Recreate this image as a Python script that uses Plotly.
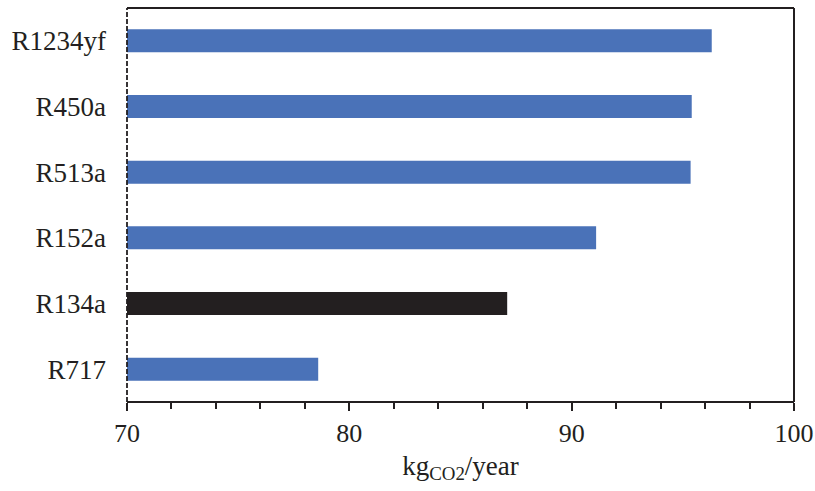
import plotly.graph_objects as go

categories = ["R717", "R134a", "R152a", "R513a", "R450a", "R1234yf"]
values = [78.6, 87.1, 91.1, 95.35, 95.4, 96.3]
colors = ["#4a72b8", "#231f20", "#4a72b8", "#4a72b8", "#4a72b8", "#4a72b8"]
x_ticks = [70, 80, 90, 100]

FONT = "Liberation Serif"
FS = 27

fig = go.Figure(go.Bar(
    y=categories, x=values, orientation="h",
    marker=dict(color=colors, line=dict(width=0)),
    base=0,
))

fig.update_layout(
    width=815, height=491,
    margin=dict(l=127, r=21, t=8, b=89),
    paper_bgcolor="white", plot_bgcolor="white",
    bargap=0.65,
    showlegend=False,
    font=dict(family=FONT, size=FS, color="#231f20"),
    xaxis=dict(
        range=[70, 100], tickvals=x_ticks, ticks="outside", ticklen=8,
        tickwidth=1.5, tickcolor="#231f20", automargin=False,
        minor=dict(dtick=2, ticks="outside", ticklen=6, tickwidth=1.5, tickcolor="#231f20"),
        showgrid=False, zeroline=False, showline=False,
        tickfont=dict(family=FONT, size=26),
        title=dict(text="kg<sub>CO2</sub>/year", font=dict(family=FONT, size=FS), standoff=8),
    ),
    yaxis=dict(
        showgrid=False, zeroline=False, showline=False, ticks="",
        ticklabelstandoff=20, automargin=False,
        tickfont=dict(family=FONT, size=FS),
    ),
    shapes=[
        dict(type="line", xref="paper", yref="paper", x0=0, x1=1, y0=0, y1=0,
             line=dict(color="#231f20", width=2), layer="above"),
        dict(type="line", xref="paper", yref="paper", x0=0, x1=1, y0=1, y1=1,
             line=dict(color="#231f20", width=2), layer="above"),
        dict(type="line", xref="paper", yref="paper", x0=1, x1=1, y0=0, y1=1,
             line=dict(color="#231f20", width=2), layer="above"),
        dict(type="line", xref="paper", yref="paper", x0=0, x1=0, y0=0, y1=1,
             line=dict(color="#231f20", width=1.8, dash="5px,2px"), layer="above"),
    ],
)

fig.write_html(
    "out.html",
    config={"displayModeBar": False},
    post_script="document.body.style.margin='0';document.body.style.overflow='hidden';",
)
